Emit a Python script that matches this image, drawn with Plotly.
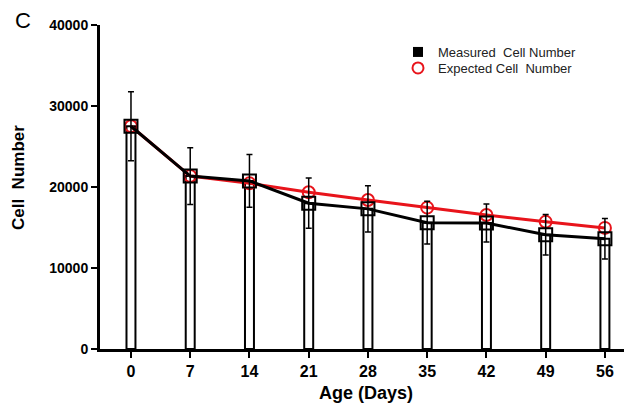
import plotly.graph_objects as go

days = [0, 7, 14, 21, 28, 35, 42, 49, 56]
measured = [27500, 21350, 20750, 18000, 17300, 15600, 15550, 14100, 13600]
measured_sd = [4250, 3500, 3250, 3100, 2850, 2650, 2350, 2500, 2500]
expected = [27500, 21350, 20450, 19350, 18400, 17450, 16550, 15700, 14950]
tick_labels = ["0", "7", "14", "21", "28", "35", "42", "49", "56"]

# page body has an 8px margin; work in figure coordinates
OFF = 8
W, H = 632 - OFF, 412 - OFF
L, R, T = 100 - OFF, 0, 25 - OFF
B = H - (349 - OFF)
pw = W - L - R
ph = H - T - B


def px_x(x):
    return (x - OFF - L) / pw


def px_y(y):
    return (H - B - (y - OFF)) / ph


FONT = "Liberation Sans, Arial, sans-serif"

fig = go.Figure()

fig.add_trace(go.Bar(
    x=days, y=measured, width=1.06,
    marker=dict(color="white", line=dict(color="black", width=2)),
    showlegend=False, hoverinfo="skip",
))

fig.add_trace(go.Scatter(
    x=days, y=expected, mode="lines+markers",
    line=dict(color="#e8141b", width=3),
    marker=dict(symbol="circle-open", size=12, color="#e8141b", line=dict(width=2)),
    showlegend=False,
))

fig.add_trace(go.Scatter(
    x=days, y=measured, mode="lines+markers",
    line=dict(color="black", width=3),
    marker=dict(symbol="square-open", size=13, color="black", line=dict(width=2)),
    error_y=dict(type="data", array=measured_sd, visible=True, color="black",
                 thickness=1.5, width=3),
    showlegend=False,
))

# legend entries (symbols only)
fig.add_trace(go.Scatter(
    x=[None], y=[None], mode="markers", name="Measured  Cell Number",
    marker=dict(symbol="square", size=10, color="black"), legend="legend",
))
fig.add_trace(go.Scatter(
    x=[None], y=[None], mode="markers", name="Expected Cell  Number",
    marker=dict(symbol="circle-open", size=11, color="#e8141b", line=dict(width=2)),
    legend="legend2",
))

leg_common = dict(
    xanchor="left", yanchor="middle",
    font=dict(size=13, family=FONT, color="#222222"),
    bgcolor="rgba(0,0,0,0)", itemwidth=30,
)

fig.update_layout(
    width=W, height=H,
    margin=dict(l=L, r=R, t=T, b=B),
    paper_bgcolor="white", plot_bgcolor="white",
    barmode="overlay",
    font=dict(family=FONT, color="black"),
    legend=dict(x=px_x(398), y=px_y(52), **leg_common),
    legend2=dict(x=px_x(398), y=px_y(68), **leg_common),
    xaxis=dict(
        range=[-3.66, 59.2],
        tickmode="array", tickvals=days, ticktext=tick_labels,
        ticks="outside", ticklen=6, tickwidth=2, tickcolor="black",
        showline=True, linewidth=3, linecolor="black",
        showgrid=False, zeroline=False,
        tickfont=dict(size=16, weight="bold", family=FONT),
        title=dict(text="Age (Days)", font=dict(size=18, weight="bold", family=FONT), standoff=8),
    ),
    yaxis=dict(
        range=[0, 40000], tickmode="array",
        tickvals=[0, 10000, 20000, 30000, 40000],
        ticktext=["0", "10000", "20000", "30000", "40000"],
        ticks="outside", ticklen=6, tickwidth=2, tickcolor="black",
        showline=True, linewidth=3, linecolor="black",
        showgrid=False, zeroline=False,
        tickfont=dict(size=14, weight="bold", family=FONT),
    ),
    annotations=[
        dict(text="Cell  Number", xref="paper", yref="paper",
             x=px_x(18), y=px_y(178), textangle=-90,
             showarrow=False, xanchor="center", yanchor="middle",
             font=dict(size=17, weight="bold", family=FONT)),
        dict(text="C", xref="paper", yref="paper",
             x=px_x(13), y=px_y(21), showarrow=False,
             xanchor="left", yanchor="middle",
             font=dict(size=22, family=FONT)),
    ],
)

fig.write_html("out.html")
